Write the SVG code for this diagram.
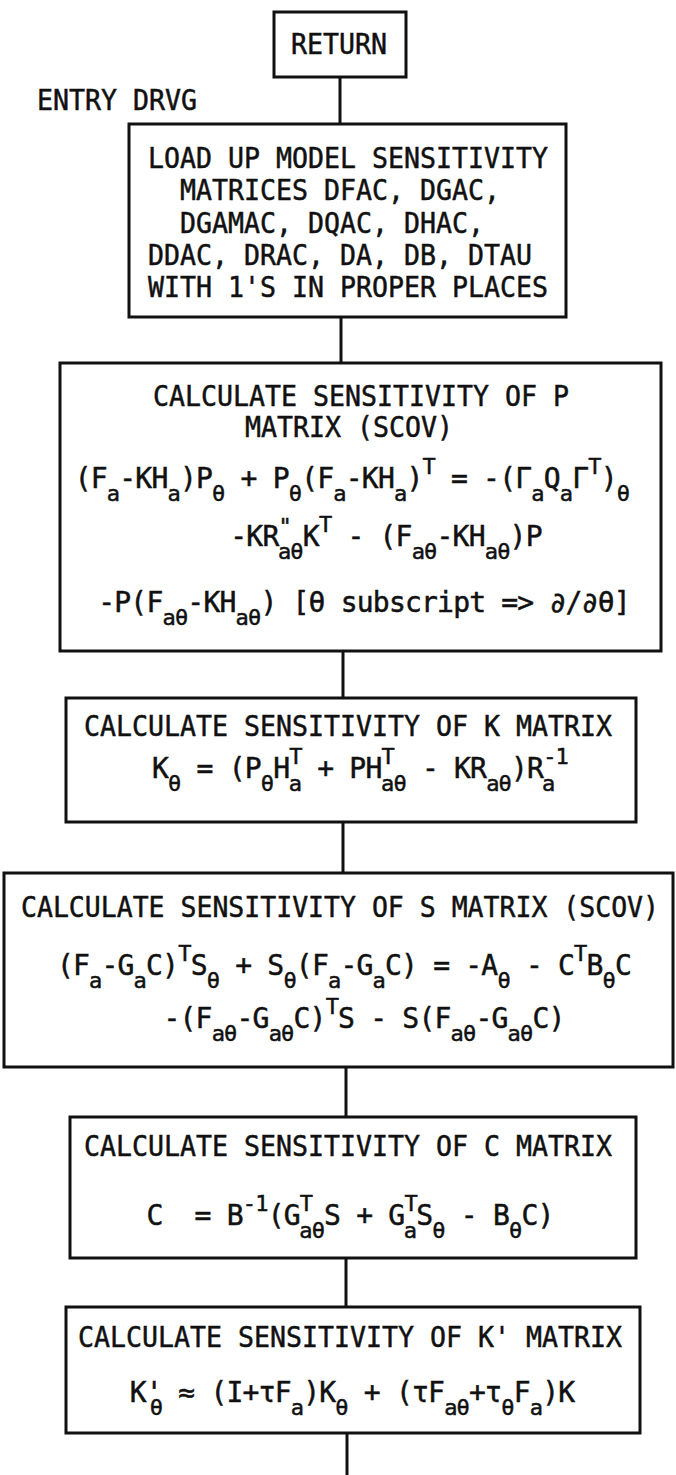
<svg xmlns="http://www.w3.org/2000/svg" width="676" height="1475" viewBox="0 0 676 1475">
<style>
.bx{fill:none;stroke:#111;stroke-width:3}
.cn{stroke:#111;stroke-width:3;fill:none}
text{font-family:"DejaVu Sans Mono","Liberation Mono",monospace;font-size:28px;fill:#111;stroke:#111;stroke-width:0.5px}
.eq{letter-spacing:-0.8px}
.sb,.sp{font-size:22px}
</style>
<rect width="676" height="1475" fill="#fff"/>
<g id="connectors">
<line class="cn" x1="340" y1="77" x2="340" y2="124"/>
<line class="cn" x1="341" y1="317" x2="341" y2="363"/>
<line class="cn" x1="343" y1="651" x2="343" y2="698"/>
<line class="cn" x1="343" y1="822" x2="343" y2="873"/>
<line class="cn" x1="346" y1="1067" x2="346" y2="1117"/>
<line class="cn" x1="346" y1="1258" x2="346" y2="1307"/>
<line class="cn" x1="347" y1="1433" x2="347" y2="1475"/>
</g>
<g id="return">
<rect class="bx" x="274" y="12" width="132" height="65"/>
<text x="291" y="54" textLength="96" lengthAdjust="spacingAndGlyphs">RETURN</text>
</g>
<g id="entry">
<text x="37" y="110" textLength="160" lengthAdjust="spacingAndGlyphs">ENTRY DRVG</text>
</g>
<g id="load">
<rect class="bx" x="129" y="124" width="437" height="193"/>
<text x="148" y="168" textLength="400" lengthAdjust="spacingAndGlyphs">LOAD UP MODEL SENSITIVITY</text>
<text x="180" y="200" textLength="320" lengthAdjust="spacingAndGlyphs">MATRICES DFAC, DGAC,</text>
<text x="180" y="233" textLength="304" lengthAdjust="spacingAndGlyphs">DGAMAC, DQAC, DHAC,</text>
<text x="148" y="265" textLength="384" lengthAdjust="spacingAndGlyphs">DDAC, DRAC, DA, DB, DTAU</text>
<text x="148" y="297" textLength="400" lengthAdjust="spacingAndGlyphs">WITH 1'S IN PROPER PLACES</text>
</g>
<g id="sensP">
<rect class="bx" x="60" y="363" width="601" height="288"/>
<text x="153" y="406" textLength="416" lengthAdjust="spacingAndGlyphs">CALCULATE SENSITIVITY OF P</text>
<text x="245" y="437" textLength="208" lengthAdjust="spacingAndGlyphs">MATRIX (SCOV)</text>
<text class="eq" x="352" y="488" text-anchor="middle">(F<tspan class="sb" dy="13">a</tspan><tspan dy="-13">-KH</tspan><tspan class="sb" dy="13">a</tspan><tspan dy="-13">)P</tspan><tspan class="sb" dy="13">θ</tspan><tspan dy="-13"> + P</tspan><tspan class="sb" dy="13">θ</tspan><tspan dy="-13">(F</tspan><tspan class="sb" dy="13">a</tspan><tspan dy="-13">-KH</tspan><tspan class="sb" dy="13">a</tspan><tspan dy="-13">)</tspan><tspan class="sp" dy="-14">T</tspan><tspan dy="14"> = -(Γ</tspan><tspan class="sb" dy="13">a</tspan><tspan dy="-13">Q</tspan><tspan class="sb" dy="13">a</tspan><tspan dy="-13">Γ</tspan><tspan class="sp" dy="-14">T</tspan><tspan dy="14">)</tspan><tspan class="sb" dy="13">θ</tspan></text>
<text class="eq" x="386" y="546" text-anchor="middle">-KR<tspan class="sp" dy="-12">"</tspan><tspan class="sb" dx="-13" dy="25">aθ</tspan><tspan dy="-13">K</tspan><tspan class="sp" dy="-14">T</tspan><tspan dy="14"> - (F</tspan><tspan class="sb" dy="13">aθ</tspan><tspan dy="-13">-KH</tspan><tspan class="sb" dy="13">aθ</tspan><tspan dy="-13">)P</tspan></text>
<text class="eq" x="364" y="612" text-anchor="middle">-P(F<tspan class="sb" dy="13">aθ</tspan><tspan dy="-13">-KH</tspan><tspan class="sb" dy="13">aθ</tspan><tspan dy="-13">) [θ subscript =&gt; ∂/∂θ]</tspan></text>
</g>
<g id="sensK">
<rect class="bx" x="66" y="698" width="570" height="124"/>
<text x="84" y="736" textLength="528" lengthAdjust="spacingAndGlyphs">CALCULATE SENSITIVITY OF K MATRIX</text>
<text class="eq" x="360" y="778" text-anchor="middle">K<tspan class="sb" dy="13">θ</tspan><tspan dy="-13"> = (P</tspan><tspan class="sb" dy="13">θ</tspan><tspan dy="-13">H</tspan><tspan class="sp" dy="-14">T</tspan><tspan class="sb" dx="-13" dy="27">a</tspan><tspan dy="-13"> + PH</tspan><tspan class="sp" dy="-14">T</tspan><tspan class="sb" dx="-13" dy="27">aθ</tspan><tspan dy="-13"> - KR</tspan><tspan class="sb" dy="13">aθ</tspan><tspan dy="-13">)R</tspan><tspan class="sp" dy="-14">-1</tspan><tspan class="sb" dx="-26" dy="27">a</tspan></text>
</g>
<g id="sensS">
<rect class="bx" x="4" y="873" width="669" height="194"/>
<text x="21" y="917" textLength="638" lengthAdjust="spacingAndGlyphs">CALCULATE SENSITIVITY OF S MATRIX (SCOV)</text>
<text class="eq" x="344" y="975" text-anchor="middle">(F<tspan class="sb" dy="13">a</tspan><tspan dy="-13">-G</tspan><tspan class="sb" dy="13">a</tspan><tspan dy="-13">C)</tspan><tspan class="sp" dy="-14">T</tspan><tspan dy="14">S</tspan><tspan class="sb" dy="13">θ</tspan><tspan dy="-13"> + S</tspan><tspan class="sb" dy="13">θ</tspan><tspan dy="-13">(F</tspan><tspan class="sb" dy="13">a</tspan><tspan dy="-13">-G</tspan><tspan class="sb" dy="13">a</tspan><tspan dy="-13">C) = -A</tspan><tspan class="sb" dy="13">θ</tspan><tspan dy="-13"> - C</tspan><tspan class="sp" dy="-14">T</tspan><tspan dy="14">B</tspan><tspan class="sb" dy="13">θ</tspan><tspan dy="-13">C</tspan></text>
<text class="eq" x="364" y="1028" text-anchor="middle">-(F<tspan class="sb" dy="13">aθ</tspan><tspan dy="-13">-G</tspan><tspan class="sb" dy="13">aθ</tspan><tspan dy="-13">C)</tspan><tspan class="sp" dy="-14">T</tspan><tspan dy="14">S - S(F</tspan><tspan class="sb" dy="13">aθ</tspan><tspan dy="-13">-G</tspan><tspan class="sb" dy="13">aθ</tspan><tspan dy="-13">C)</tspan></text>
</g>
<g id="sensC">
<rect class="bx" x="70" y="1117" width="566" height="141"/>
<text x="84" y="1156" textLength="528" lengthAdjust="spacingAndGlyphs">CALCULATE SENSITIVITY OF C MATRIX</text>
<text class="eq" x="350" y="1225" text-anchor="middle" xml:space="preserve">C  = B<tspan class="sp" dy="-14">-1</tspan><tspan dy="14">(G</tspan><tspan class="sp" dy="-14">T</tspan><tspan class="sb" dx="-13" dy="27">aθ</tspan><tspan dy="-13">S + G</tspan><tspan class="sp" dy="-14">T</tspan><tspan class="sb" dx="-13" dy="27">a</tspan><tspan dy="-13">S</tspan><tspan class="sb" dy="13">θ</tspan><tspan dy="-13"> - B</tspan><tspan class="sb" dy="13">θ</tspan><tspan dy="-13">C)</tspan></text>
</g>
<g id="sensKp">
<rect class="bx" x="66" y="1307" width="574" height="126"/>
<text x="78" y="1347" textLength="544" lengthAdjust="spacingAndGlyphs">CALCULATE SENSITIVITY OF K' MATRIX</text>
<text class="eq" x="352" y="1402" text-anchor="middle">K'<tspan class="sb" dx="-12" dy="13">θ</tspan><tspan dy="-13"> ≈ (I+τF</tspan><tspan class="sb" dy="13">a</tspan><tspan dy="-13">)K</tspan><tspan class="sb" dy="13">θ</tspan><tspan dy="-13"> + (τF</tspan><tspan class="sb" dy="13">aθ</tspan><tspan dy="-13">+τ</tspan><tspan class="sb" dy="13">θ</tspan><tspan dy="-13">F</tspan><tspan class="sb" dy="13">a</tspan><tspan dy="-13">)K</tspan></text>
</g>
</svg>
